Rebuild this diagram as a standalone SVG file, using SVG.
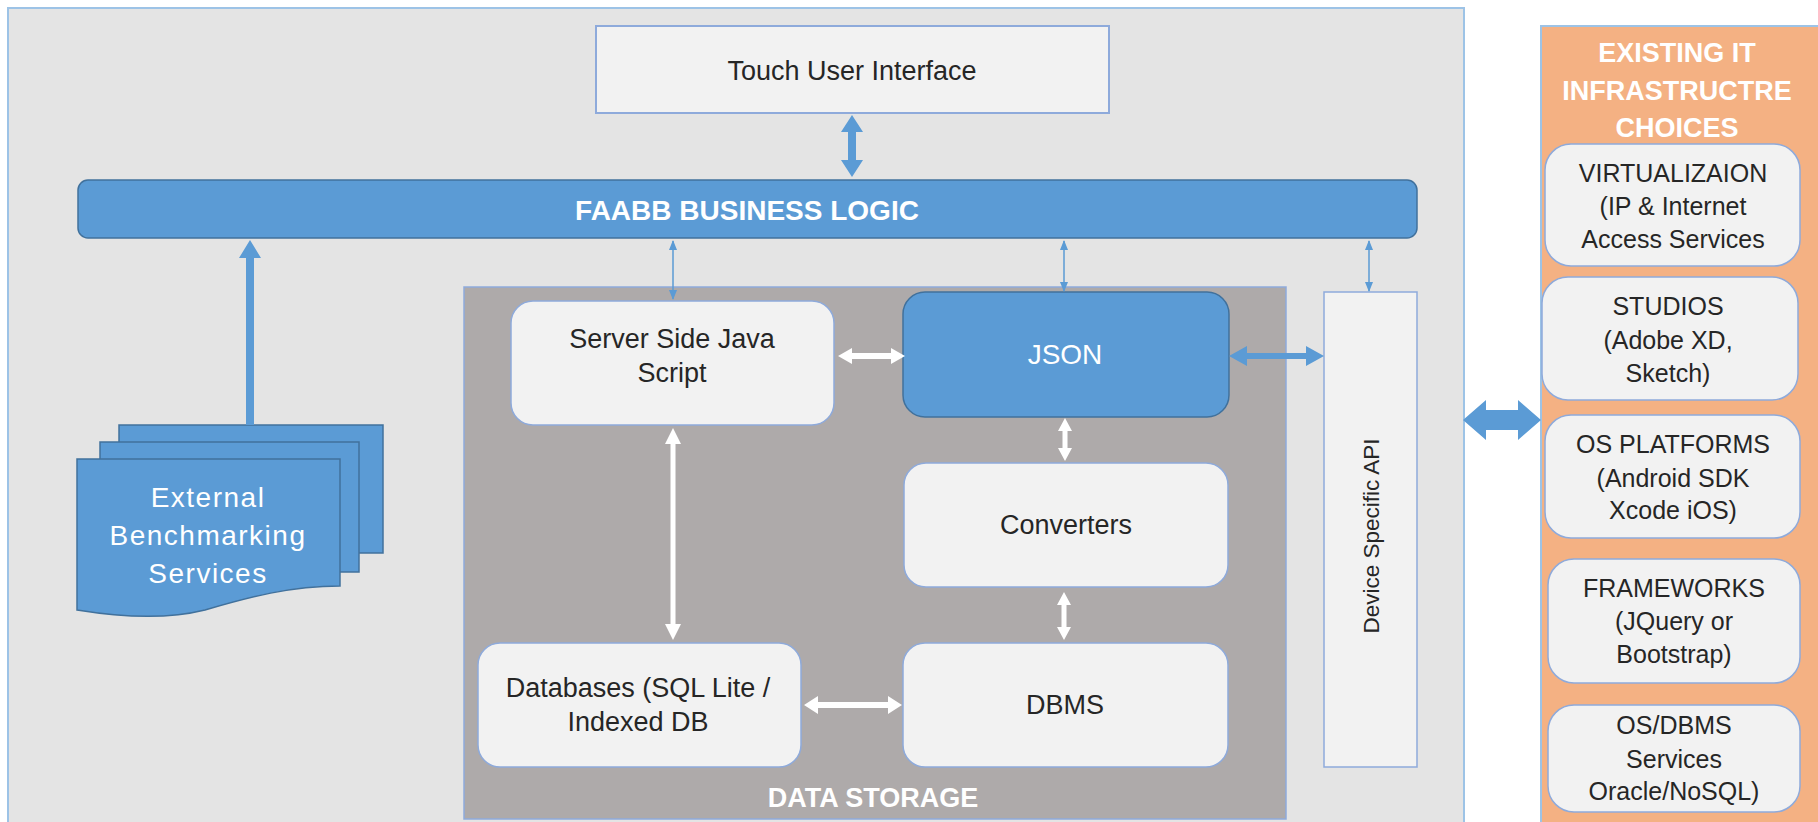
<svg xmlns="http://www.w3.org/2000/svg" width="1818" height="822" viewBox="0 0 1818 822">
<style>
.lbl{font-family:"Liberation Sans",Arial,sans-serif;font-size:27px;fill:#262626;text-anchor:middle}
.vt{font-family:"Liberation Sans",Arial,sans-serif;font-size:22.5px;fill:#262626;text-anchor:middle}
.rl{font-family:"Liberation Sans",Arial,sans-serif;font-size:25px;fill:#262626;text-anchor:middle}
.wb{font-family:"Liberation Sans",Arial,sans-serif;font-weight:bold;fill:#ffffff;text-anchor:middle}
.wn{font-family:"Liberation Sans",Arial,sans-serif;font-weight:normal;fill:#ffffff;text-anchor:middle}
.box{fill:#f2f2f2;stroke:#8eaadb;stroke-width:1.5}
.blue{fill:#5b9bd5;stroke:#41719c;stroke-width:1.5}
.barrow{fill:#5b9bd5}
.warrow{fill:#ffffff}
.thin{stroke:#5b9bd5;stroke-width:1.5;fill:none}
</style>
<defs>
<marker id="ah" viewBox="0 0 10 8" refX="9" refY="4" markerWidth="10" markerHeight="8" markerUnits="userSpaceOnUse" orient="auto-start-reverse">
<path d="M0,0 L10,4 L0,8 Z" fill="#5b9bd5"/>
</marker>
</defs>
<rect width="1818" height="822" fill="#ffffff"/>

<g id="outer">
<rect x="8" y="8" width="1456" height="830" fill="#e4e4e4" stroke="#9dc3e6" stroke-width="2"/>
</g>

<g id="touch-ui">
<rect x="596" y="26" width="513" height="87" fill="#f2f2f2" stroke="#8eaadb" stroke-width="2"/>
<text class="lbl" x="852" y="80">Touch User Interface</text>
</g>

<g id="business-logic">
<rect x="78" y="180" width="1339" height="58" rx="10" class="blue"/>
<text class="wb" x="747" y="220" font-size="28">FAABB BUSINESS LOGIC</text>
</g>

<g id="external-benchmarking">
<rect x="119" y="425" width="264" height="128" class="blue" stroke-width="1"/>
<rect x="100" y="442" width="259" height="130" class="blue" stroke-width="1"/>
<path d="M77,459 H340 V586 C 290,586 250,597 205,610 C 165,620 120,617 77,610 Z" class="blue" stroke-width="1"/>
<text class="wn" font-size="28" letter-spacing="1.5" x="208" y="507">External</text>
<text class="wn" font-size="28" letter-spacing="1.5" x="208" y="545">Benchmarking</text>
<text class="wn" font-size="28" letter-spacing="1.5" x="208" y="583">Services</text>
</g>

<g id="data-storage">
<rect x="464" y="287" width="822" height="532" fill="#aeaaaa" stroke="#8eaadb" stroke-width="1.5"/>
<text class="wb" x="873" y="807" font-size="27">DATA STORAGE</text>
</g>

<g id="server-side-js">
<rect x="511" y="301" width="323" height="124" rx="22" class="box"/>
<text class="lbl" x="672" y="348">Server  Side Java</text>
<text class="lbl" x="672" y="382">Script</text>
</g>

<g id="json">
<rect x="903" y="292" width="326" height="125" rx="22" class="blue"/>
<text class="wn" x="1065" y="364" font-size="28">JSON</text>
</g>

<g id="converters">
<rect x="904" y="463" width="324" height="124" rx="22" class="box"/>
<text class="lbl" x="1066" y="534">Converters</text>
</g>

<g id="databases">
<rect x="478" y="643" width="323" height="124" rx="22" class="box"/>
<text class="lbl" x="638" y="697">Databases (SQL Lite /</text>
<text class="lbl" x="638" y="731">Indexed DB</text>
</g>

<g id="dbms">
<rect x="903" y="643" width="325" height="124" rx="22" class="box"/>
<text class="lbl" x="1065" y="714">DBMS</text>
</g>

<g id="device-api">
<rect x="1324" y="292" width="93" height="475" fill="#f2f2f2" stroke="#8eaadb" stroke-width="1.5"/>
<text class="vt" x="1371" y="536" dominant-baseline="central" transform="rotate(-90 1371 536)">Device Specific API</text>
</g>

<g id="existing-it">
<rect x="1541" y="26" width="290" height="812" fill="#f4b183" stroke="#9dc3e6" stroke-width="2"/>
<text class="wb" font-size="27" x="1677" y="62">EXISTING IT</text>
<text class="wb" font-size="27" x="1677" y="100">INFRASTRUCTRE</text>
<text class="wb" font-size="27" x="1677" y="137">CHOICES</text>
</g>

<g id="virtualization">
<rect x="1545" y="144" width="255" height="122" rx="26" class="box"/>
<text class="rl" x="1673" y="182">VIRTUALIZAION</text>
<text class="rl" x="1673" y="215">(IP &amp; Internet</text>
<text class="rl" x="1673" y="248">Access Services</text>
</g>

<g id="studios">
<rect x="1542" y="277" width="256" height="123" rx="26" class="box"/>
<text class="rl" x="1668" y="315">STUDIOS</text>
<text class="rl" x="1668" y="349">(Adobe XD,</text>
<text class="rl" x="1668" y="382">Sketch)</text>
</g>

<g id="os-platforms">
<rect x="1545" y="415" width="255" height="123" rx="26" class="box"/>
<text class="rl" x="1673" y="453">OS PLATFORMS</text>
<text class="rl" x="1673" y="487">(Android SDK</text>
<text class="rl" x="1673" y="519">Xcode iOS)</text>
</g>

<g id="frameworks">
<rect x="1548" y="559" width="252" height="124" rx="26" class="box"/>
<text class="rl" x="1674" y="597">FRAMEWORKS</text>
<text class="rl" x="1674" y="630">(JQuery or</text>
<text class="rl" x="1674" y="663">Bootstrap)</text>
</g>

<g id="os-dbms">
<rect x="1548" y="705" width="252" height="107" rx="26" class="box"/>
<text class="rl" x="1674" y="734">OS/DBMS</text>
<text class="rl" x="1674" y="768">Services</text>
<text class="rl" x="1674" y="800">Oracle/NoSQL)</text>
</g>

<g id="connectors">
<polygon class="barrow" points="852,115 863,132 856,132 856,160 863,160 852,177 841,160 848,160 848,132 841,132"/>
<polygon class="barrow" points="250,240 261,258 254,258 254,425 246,425 246,258 239,258"/>
<line class="thin" x1="673" y1="241" x2="673" y2="299" marker-start="url(#ah)" marker-end="url(#ah)"/>
<line class="thin" x1="1064" y1="241" x2="1064" y2="291" marker-start="url(#ah)" marker-end="url(#ah)"/>
<line class="thin" x1="1369" y1="241" x2="1369" y2="291" marker-start="url(#ah)" marker-end="url(#ah)"/>
<polygon class="barrow" points="1229,356 1247,346 1247,353 1306,353 1306,346 1324,356 1306,366 1306,359 1247,359 1247,366"/>
<polygon class="barrow" points="1463,420 1486,400 1486,410 1518,410 1518,400 1541,420 1518,440 1518,430 1486,430 1486,440"/>
<polygon class="warrow" points="838,356 852,348 852,353 891,353 891,348 905,356 891,364 891,359 852,359 852,364"/>
<polygon class="warrow" points="673,428 681,444 675.5,444 675.5,624 681,624 673,640 665,624 670.5,624 670.5,444 665,444"/>
<polygon class="warrow" points="1065,418 1072,431 1067.5,431 1067.5,448 1072,448 1065,461 1058,448 1062.5,448 1062.5,431 1058,431"/>
<polygon class="warrow" points="1064,592 1071,605 1066.5,605 1066.5,627 1071,627 1064,640 1057,627 1061.5,627 1061.5,605 1057,605"/>
<polygon class="warrow" points="804,705 818,696 818,702 888,702 888,696 902,705 888,714 888,708 818,708 818,714"/>
</g>
</svg>
